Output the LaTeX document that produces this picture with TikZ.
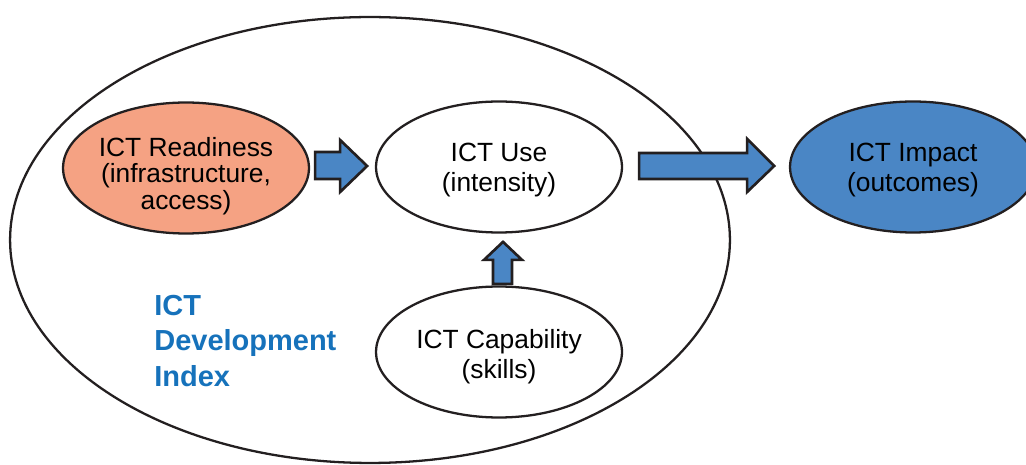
\documentclass[tikz,border=0pt]{standalone}
\usepackage{fontspec}
\setmainfont{Liberation Sans}
\usetikzlibrary{positioning}
\usetikzlibrary{calc}
\usetikzlibrary{shapes}
\definecolor{outline}{RGB}{35, 31, 32}
\definecolor{salmon}{RGB}{245, 162, 131}
\definecolor{ictblue}{RGB}{74, 134, 197}
\definecolor{idiblue}{RGB}{22, 114, 187}

\begin{document}
\begin{tikzpicture}[
    x=0.02cm, y=-0.02cm,
    % node styles
    oval/.style = {
      ellipse,
      draw=outline,
      line width=1.3pt,
      minimum width=4.92cm,
      minimum height=2.62cm
    },
    ovaltext/.style = {
      align=center,
      inner sep=0pt,
      font=\fontsize{15}{17}\selectfont
    },
    idi/.style = {
      ellipse,
      draw=outline,
      line width=1.3pt,
      minimum width=14.4cm,
      minimum height=8.92cm
    },
    % arrow styles
    blockarr/.style = {draw=outline, line width=1.5pt, fill=ictblue, line join=miter}
  ]
  \useasboundingbox (0,0) rectangle (1026,465);
  \clip (0,0) rectangle (1026,465);

  % --- Nodes
  \node[idi] (index) at (370,240) {};

  \node[oval, fill=salmon] (ready) at (186,168) {};
  \node[ovaltext, font=\fontsize{15}{15.2}\selectfont] (readytext)
    at ($(ready)+(0,8)$) {ICT Readiness\\(infrastructure,\\access)};

  \node[oval, fill=white] (use) at (499,167) {};
  \node[ovaltext] (usetext) at ($(use)+(0,3)$) {ICT Use\\(intensity)};

  \node[oval, fill=white] (capab) at (499,352) {};
  \node[ovaltext] (capabtext) at ($(capab)+(0,5)$) {ICT Capability\\(skills)};

  \node[oval, fill=ictblue] (impact) at (913,167) {};
  \node[ovaltext] (impacttext) at ($(impact)+(0,3)$) {ICT Impact\\(outcomes)};

  \node[anchor=west, align=left, inner sep=0pt, text=idiblue,
    font=\fontsize{16.5}{20.4}\selectfont\bfseries] (indexlabel) at (154,341)
    {ICT\\Development\\Index};

  % --- Arrows
  \draw[blockarr] ($(ready.east)+(5,-16)$) -- ++(25,0) -- ++(0,-12)
    -- ++(27,26) -- ++(-27,26) -- ++(0,-13) -- ++(-25,0) -- cycle;
  \draw[blockarr] ($(use.east)+(16,-14)$) -- ++(108,0) -- ++(0,-14)
    -- ++(27,27) -- ++(-27,26) -- ++(0,-13) -- ++(-108,0) -- cycle;
  \draw[blockarr] ($(capab.north)+(-6,-1.5)$) -- ++(0,-24) -- ++(-9,0)
    -- ++(19,-18) -- ++(19,18) -- ++(-10,0) -- ++(0,24) -- cycle;

\end{tikzpicture}
\end{document}
